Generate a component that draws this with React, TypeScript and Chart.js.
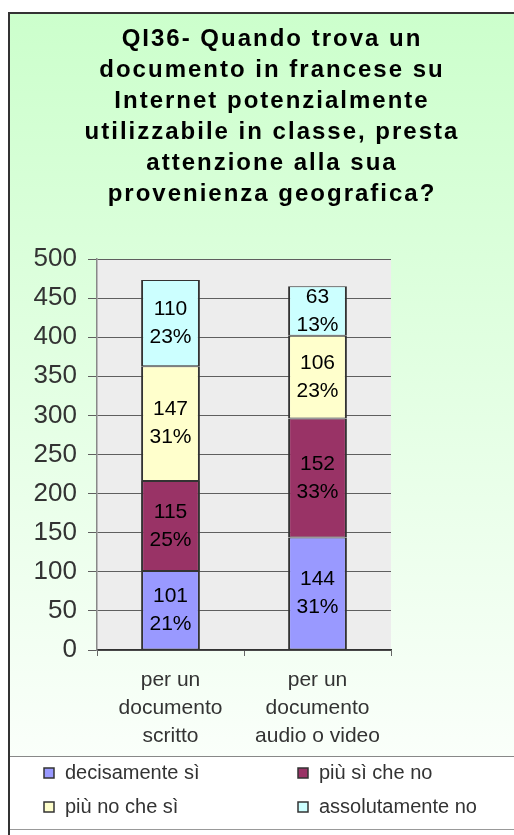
import React, { useEffect, useRef } from 'react';
import { Chart, registerables } from 'chart.js';

Chart.register(...registerables);

// ---- data ----
const categories: string[][] = [
  ['per un', 'documento', 'scritto'],
  ['per un', 'documento', 'audio o video'],
];
const seriesNames = ['decisamente sì', 'più sì che no', 'più no che sì', 'assolutamente no'];
const decisamenteSi = [101, 144];
const piuSiCheNo = [115, 152];
const piuNoCheSi = [147, 106];
const assolutamenteNo = [110, 63];
const pctDecisamenteSi = ['21%', '31%'];
const pctPiuSiCheNo = ['25%', '33%'];
const pctPiuNoCheSi = ['31%', '23%'];
const pctAssolutamenteNo = ['23%', '13%'];
const seriesColors = ['#9999FF', '#993366', '#FFFFCC', '#CCFFFF'];
const titleLines = [
  'QI36- Quando trova un',
  'documento in francese su',
  'Internet potenzialmente',
  'utilizzabile in classe, presta',
  'attenzione alla sua',
  'provenienza geografica?',
];
const yMin = 0;
const yMax = 500;
const yStep = 50;

const FONT = '"Liberation Sans", Arial, sans-serif';
const W = 514;
const H = 835;

const framePlugin = {
  id: 'frame',
  beforeDraw(chart: any) {
    const ctx = chart.ctx;
    const ca = chart.chartArea;
    ctx.save();
    ctx.fillStyle = '#FFFFFF';
    ctx.fillRect(0, 0, W, H);
    const g = ctx.createLinearGradient(0, 14, 0, 756);
    g.addColorStop(0, '#CCFFCC');
    g.addColorStop(1, '#FAFFFA');
    ctx.fillStyle = g;
    ctx.fillRect(9, 13, W, 743);
    ctx.fillStyle = '#FFFFFF';
    ctx.fillRect(9, 756, W, 73);
    ctx.strokeStyle = '#888888';
    ctx.lineWidth = 1;
    ctx.beginPath();
    ctx.moveTo(9, 756.5);
    ctx.lineTo(W, 756.5);
    ctx.stroke();
    ctx.strokeStyle = '#999999';
    ctx.beginPath();
    ctx.moveTo(9, 829.5);
    ctx.lineTo(W, 829.5);
    ctx.stroke();
    ctx.fillStyle = '#333333';
    ctx.fillRect(8, 12, 2, H - 12);
    ctx.fillRect(8, 12, W - 8, 2);
    ctx.fillStyle = '#EDEDED';
    ctx.fillRect(ca.left, ca.top, ca.right - ca.left, ca.bottom - ca.top);
    ctx.restore();
  },
};

const pctLists = [pctDecisamenteSi, pctPiuSiCheNo, pctPiuNoCheSi, pctAssolutamenteNo];

const labelsPlugin = {
  id: 'segLabels',
  afterDatasetsDraw(chart: any) {
    const ctx = chart.ctx;
    ctx.save();
    ctx.font = `21px ${FONT}`;
    ctx.fillStyle = '#000000';
    ctx.textAlign = 'center';
    ctx.textBaseline = 'middle';
    chart.data.datasets.forEach((ds: any, di: number) => {
      const meta = chart.getDatasetMeta(di);
      meta.data.forEach((el: any, i: number) => {
        const cy = (el.y + el.base) / 2;
        ctx.fillText(String(ds.data[i]), el.x, cy - 14);
        ctx.fillText(pctLists[di][i], el.x, cy + 14);
      });
    });
    ctx.restore();
  },
};

const titleLegendPlugin = {
  id: 'titleLegend',
  afterDraw(chart: any) {
    const ctx = chart.ctx;
    ctx.save();
    ctx.font = `bold 24px ${FONT}`;
    (ctx as any).letterSpacing = '2px';
    ctx.fillStyle = '#000000';
    ctx.textAlign = 'center';
    ctx.textBaseline = 'middle';
    titleLines.forEach((t, i) => {
      ctx.fillText(t, 272, 39 + i * 31);
    });
    (ctx as any).letterSpacing = '0px';
    ctx.font = `20px ${FONT}`;
    ctx.textAlign = 'left';
    const colX = [44, 298];
    const rowY = [773, 807];
    seriesNames.forEach((name, i) => {
      const x = colX[i % 2];
      const y = rowY[Math.floor(i / 2)];
      ctx.fillStyle = seriesColors[i];
      ctx.fillRect(x, y - 5, 10, 10);
      ctx.strokeStyle = '#333333';
      ctx.lineWidth = 1.5;
      ctx.strokeRect(x, y - 5, 10, 10);
      ctx.fillStyle = '#333333';
      ctx.fillText(name, x + 21, y);
    });
    ctx.restore();
  },
};

export default function App() {
  const ref = useRef<HTMLCanvasElement | null>(null);
  useEffect(() => {
    if (!ref.current) return;
    const seriesValues = [decisamenteSi, piuSiCheNo, piuNoCheSi, assolutamenteNo];
    const chart = new Chart(ref.current, {
      type: 'bar',
      data: {
        labels: categories,
        datasets: seriesNames.map((name, i) => ({
          label: name,
          data: seriesValues[i],
          backgroundColor: seriesColors[i],
          borderColor: '#333333',
          borderWidth: { left: 2, right: 2, top: 1, bottom: 1 },
          borderSkipped: false,
          categoryPercentage: 1,
          barPercentage: 0.4,
        })),
      },
      options: {
        responsive: false,
        animation: false,
        devicePixelRatio: 1,
        layout: { padding: { left: 10, right: 123, top: 259, bottom: 85 } },
        plugins: {
          legend: { display: false },
          title: { display: false },
          tooltip: { enabled: false },
        },
        scales: {
          x: {
            stacked: true,
            afterFit: (s: any) => {
              s.height = 100;
            },
            grid: {
              drawOnChartArea: false,
              drawTicks: true,
              tickLength: 6,
              color: '#666666',
              offset: true,
            },
            border: { color: '#333333', width: 1.5 },
            ticks: {
              color: '#333333',
              padding: 10,
              maxRotation: 0,
              autoSkip: false,
              font: { family: FONT, size: 21, lineHeight: 28 / 21 },
            },
          },
          y: {
            stacked: true,
            min: yMin,
            max: yMax,
            afterFit: (s: any) => {
              s.width = 87;
            },
            grid: { color: '#5F5F5F', tickLength: 9, lineWidth: 1 },
            border: { color: '#888888', width: 1.5 },
            ticks: {
              stepSize: yStep,
              color: '#333333',
              padding: 11,
              font: { family: FONT, size: 26 },
            },
          },
        },
      },
      plugins: [framePlugin, labelsPlugin, titleLegendPlugin],
    } as any);
    return () => chart.destroy();
  }, []);
  return (
    <div style={{ position: 'absolute', left: 0, top: 0, width: W, height: H, overflow: 'hidden' }}>
      <canvas ref={ref} width={W} height={H} style={{ width: W, height: H, display: 'block' }} />
    </div>
  );
}
